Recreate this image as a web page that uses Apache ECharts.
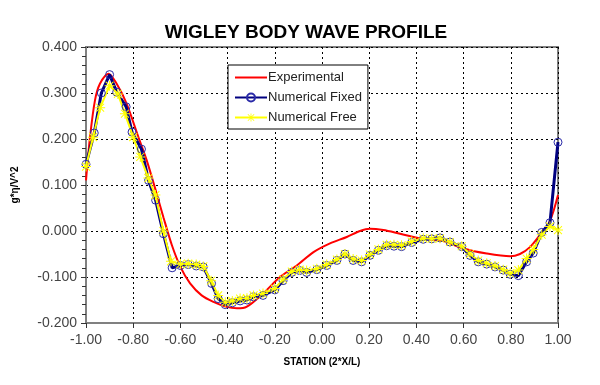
<!DOCTYPE html>
<html><head><meta charset="utf-8">
<script src="https://cdn.jsdelivr.net/npm/echarts@6/dist/echarts.min.js"></script>
<style>html,body{margin:0;padding:0;background:#fff}#c{width:600px;height:385px}</style>
</head><body><div id="c"></div>
<script>
const xTicks = [-1.0, -0.8, -0.6, -0.4, -0.2, 0.0, 0.2, 0.4, 0.6, 0.8, 1.0];
const yTicks = [-0.2, -0.1, 0.0, 0.1, 0.2, 0.3, 0.4];

const expX = [-1.0,-0.983,-0.962,-0.941,-0.905,-0.87,-0.828,-0.778,-0.743,-0.70,-0.672,-0.636,-0.60,-0.559,-0.51,-0.46,-0.404,-0.36,-0.32,-0.25,-0.178,-0.107,-0.036,0.034,0.105,0.161,0.203,0.260,0.331,0.429,0.514,0.599,0.698,0.797,0.839,0.881,0.924,0.966,1.0];
const expY = [0.110,0.204,0.284,0.320,0.342,0.320,0.277,0.204,0.154,0.080,0.030,-0.031,-0.078,-0.114,-0.140,-0.154,-0.165,-0.168,-0.165,-0.136,-0.100,-0.075,-0.046,-0.027,-0.013,0.000,0.005,0.002,-0.006,-0.017,-0.022,-0.038,-0.049,-0.055,-0.050,-0.035,-0.008,0.022,0.078];

const fixX = [-1.00,-0.965,-0.935,-0.90,-0.87,-0.83,-0.805,-0.765,-0.735,-0.705,-0.672,-0.635,-0.60,-0.567,-0.533,-0.503,-0.468,-0.44,-0.41,-0.38,-0.347,-0.318,-0.29,-0.25,-0.20,-0.165,-0.128,-0.095,-0.065,-0.022,0.020,0.063,0.097,0.132,0.168,0.203,0.239,0.274,0.305,0.337,0.380,0.429,0.465,0.50,0.542,0.592,0.627,0.662,0.698,0.733,0.768,0.797,0.832,0.867,0.895,0.931,0.966,1.0];
const fixY = [0.145,0.213,0.300,0.340,0.302,0.270,0.215,0.178,0.110,0.067,-0.006,-0.080,-0.075,-0.073,-0.076,-0.078,-0.114,-0.147,-0.160,-0.156,-0.152,-0.150,-0.143,-0.140,-0.128,-0.108,-0.090,-0.086,-0.090,-0.084,-0.075,-0.064,-0.050,-0.064,-0.067,-0.053,-0.042,-0.032,-0.033,-0.034,-0.025,-0.018,-0.017,-0.015,-0.024,-0.034,-0.053,-0.067,-0.072,-0.078,-0.085,-0.094,-0.097,-0.067,-0.048,-0.003,0.018,0.193];

const freeX = [-1.00,-0.97,-0.94,-0.90,-0.865,-0.835,-0.80,-0.77,-0.736,-0.706,-0.672,-0.64,-0.60,-0.567,-0.533,-0.503,-0.47,-0.44,-0.41,-0.38,-0.347,-0.318,-0.29,-0.25,-0.20,-0.165,-0.128,-0.095,-0.065,-0.022,0.020,0.063,0.097,0.132,0.168,0.203,0.239,0.274,0.305,0.337,0.380,0.429,0.465,0.50,0.542,0.592,0.627,0.662,0.698,0.733,0.768,0.797,0.832,0.867,0.895,0.931,0.966,1.0];
const freeY = [0.140,0.204,0.268,0.316,0.298,0.255,0.204,0.161,0.115,0.078,0.000,-0.066,-0.072,-0.071,-0.073,-0.077,-0.108,-0.140,-0.155,-0.152,-0.147,-0.146,-0.140,-0.136,-0.125,-0.105,-0.088,-0.084,-0.086,-0.082,-0.073,-0.062,-0.050,-0.061,-0.064,-0.051,-0.040,-0.030,-0.030,-0.031,-0.023,-0.016,-0.017,-0.016,-0.024,-0.033,-0.050,-0.064,-0.070,-0.076,-0.084,-0.092,-0.085,-0.060,-0.040,-0.008,0.010,0.002];

const zip = (a, b) => a.map((v, i) => [v, b[i]]);
const star = 'path://M0,4.5L10,4.5L10,5.5L0,5.5Z M4.5,0L5.5,0L5.5,10L4.5,10Z M1.4,0.7L9.3,8.6L8.6,9.3L0.7,1.4Z M8.6,0.7L9.3,1.4L1.4,9.3L0.7,8.6Z';
const font = '"Liberation Sans", Arial, sans-serif';
const clear = 'rgba(0,0,0,0)';

const chart = echarts.init(document.getElementById('c'), null, {renderer: 'canvas'});
chart.setOption({
  animation: false,
  backgroundColor: '#fff',
  title: {
    text: 'WIGLEY BODY WAVE PROFILE', left: 301, top: 18, textAlign: 'center',
    textStyle: {fontFamily: font, fontSize: 19, fontWeight: 'bold', color: '#000'}
  },
  grid: {left: 86, right: 42, top: 47, bottom: 62, show: true, borderColor: '#808080', borderWidth: 2, backgroundColor: 'transparent'},
  legend: {
    orient: 'vertical', left: 228, top: 65,
    backgroundColor: '#fff', borderColor: '#000', borderWidth: 1,
    padding: [6, 6, 5, 6], itemGap: 7, itemWidth: 32, itemHeight: 10,
    textStyle: {fontFamily: font, fontSize: 13, color: '#222', padding: [0, 0, 0, -4]},
    data: [
      {name: 'Experimental', icon: 'path://M0,4L32,4L32,6L0,6Z', itemStyle: {color: '#ff0000'}},
      {name: 'Numerical Fixed'},
      {name: 'Numerical Free'}
    ]
  },
  xAxis: {
    type: 'value', min: xTicks[0], max: xTicks[xTicks.length - 1], interval: 0.2,
    name: 'STATION (2*X/L)', nameLocation: 'middle', nameGap: 34,
    nameTextStyle: {fontFamily: font, fontSize: 10, fontWeight: 'bold', color: '#000'},
    axisLine: {show: true, onZero: false, lineStyle: {color: '#808080', width: 2}},
    axisTick: {show: true, length: 5, lineStyle: {color: '#333'}},
    axisLabel: {fontFamily: font, fontSize: 14, color: '#444', margin: 10, formatter: v => v.toFixed(2)},
    splitLine: {show: true, lineStyle: {color: '#000', type: [2, 3], width: 1}}
  },
  yAxis: {
    type: 'value', min: yTicks[0], max: yTicks[yTicks.length - 1], interval: 0.1,
    name: 'g*η/V^2', nameLocation: 'middle', nameGap: 66, nameRotate: 90,
    nameTextStyle: {fontFamily: font, fontSize: 10, fontWeight: 'bold', color: '#000'},
    axisLine: {show: true, onZero: false, lineStyle: {color: '#808080', width: 2}},
    axisTick: {show: true, length: 5, lineStyle: {color: '#333'}},
    minorTick: {show: true, splitNumber: 5, length: 4, lineStyle: {color: '#333'}},
    axisLabel: {fontFamily: font, fontSize: 14, color: '#444', margin: 9, formatter: v => v.toFixed(3)},
    splitLine: {show: true, lineStyle: {color: '#000', type: [2, 3], width: 1}}
  },
  series: [
    {name: 'Experimental', type: 'line', data: zip(expX, expY), smooth: 0.3, symbol: 'none',
     lineStyle: {color: '#ff0000', width: 2}, itemStyle: {color: '#ff0000'}},
    {name: 'Numerical Fixed', type: 'line', data: zip(fixX, fixY), symbol: 'circle', symbolSize: 8,
     showAllSymbol: true,
     lineStyle: {color: '#000080', width: 3}, itemStyle: {color: clear, borderColor: '#2a2aa8', borderWidth: 1}},
    {name: 'Numerical Free', type: 'line', data: zip(freeX, freeY), symbol: star, symbolSize: 10,
     showAllSymbol: true,
     lineStyle: {color: '#ffff00', width: 2}, itemStyle: {color: '#ffff00', borderWidth: 0}}
  ]
});
</script></body></html>
